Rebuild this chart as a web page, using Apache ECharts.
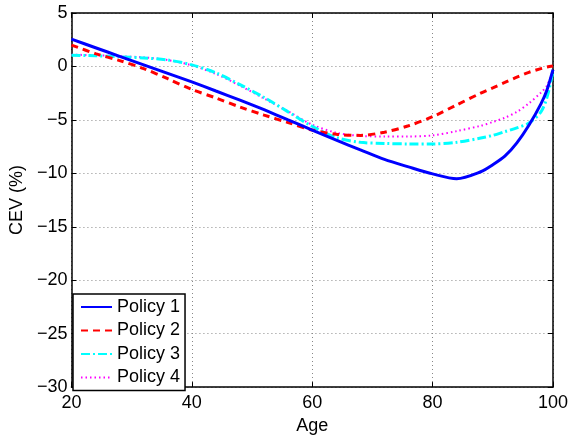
<!DOCTYPE html>
<html>
<head>
<meta charset="utf-8">
<script src="https://cdn.jsdelivr.net/npm/echarts@6/dist/echarts.min.js"></script>
<style>html,body{margin:0;padding:0;background:#fff}#c{width:571px;height:440px}</style>
</head>
<body>
<div id="c"></div>
<script>
const ages = [20,24,28,32,36,40,44,48,52,56,60,64,68,72,76,80,84,88,90,92,94,96,98,99,100];
const policy1 = [2.55,1.75,0.95,0.15,-0.65,-1.45,-2.3,-3.15,-4.05,-5.0,-5.95,-6.9,-7.8,-8.7,-9.4,-10.05,-10.5,-9.85,-9.2,-8.4,-7.15,-5.5,-3.5,-2.2,-0.3];
const policy2 = [2.0,1.2,0.55,-0.2,-1.15,-2.15,-2.95,-3.8,-4.55,-5.25,-5.95,-6.35,-6.45,-6.15,-5.55,-4.7,-3.6,-2.5,-2.0,-1.5,-1.0,-0.55,-0.2,-0.05,0.05];
const policy3 = [1.05,1.0,0.9,0.8,0.6,0.15,-0.6,-1.7,-2.9,-4.25,-5.6,-6.65,-7.1,-7.2,-7.25,-7.25,-7.1,-6.7,-6.45,-6.1,-5.75,-5.3,-4.25,-2.9,-0.5];
const policy4 = [1.1,1.05,0.95,0.85,0.6,0.1,-0.7,-1.8,-3.0,-4.2,-5.45,-6.2,-6.5,-6.55,-6.55,-6.45,-6.05,-5.55,-5.2,-4.8,-4.25,-3.45,-2.45,-1.8,-0.4];
const seriesNames = ['Policy 1','Policy 2','Policy 3','Policy 4'];
const xTicks = [20,40,60,80,100];
const yTicks = [-30,-25,-20,-15,-10,-5,0,5];

const FONT = '"Liberation Sans", Arial, Helvetica, sans-serif';
const fmt = v => (v < 0 ? '\u2212' + Math.abs(v) : String(v));
const pairs = arr => ages.map((a, i) => [a, arr[i]]);

const styles = [
  {color:'#0000ff', width:3, type:'solid'},
  {color:'#ff0000', width:3, type:[7,5]},
  {color:'#00ffff', width:3, type:[9,3,2,3]},
  {color:'#ff00ff', width:2, type:[1.5,3]}
];
const datas = [policy1, policy2, policy3, policy4];

const chart = echarts.init(document.getElementById('c'), null, {renderer:'canvas'});
const gridLine = {show:true, lineStyle:{color:'#888', type:[1,3], width:1}};
const boxLine = {show:true, onZero:false, lineStyle:{color:'#000', width:1.5}};
const tick = {show:true, inside:true, length:5, lineStyle:{color:'#000'}};
chart.setOption({
  animation:false,
  backgroundColor:'#fff',
  textStyle:{fontFamily:FONT},
  grid:{left:68, right:18, top:13, bottom:45, containLabel:false},
  legend:{
    orient:'vertical', left:73, top:294,
    data:seriesNames,
    backgroundColor:'#fff', borderColor:'#000', borderWidth:1.5,
    padding:[4,5,4,7], itemWidth:31, itemHeight:18, itemGap:5.5,
    itemStyle:{opacity:0},
    textStyle:{fontSize:18, color:'#000', fontFamily:FONT},
  },
  xAxis:[{
    type:'value', min:xTicks[0], max:xTicks[xTicks.length-1], interval:20,
    name:'Age', nameLocation:'middle', nameGap:24,
    nameTextStyle:{fontSize:18, color:'#000', fontFamily:FONT},
    axisLine:boxLine, axisTick:tick,
    axisLabel:{fontSize:18, color:'#000', margin:7, fontFamily:FONT, formatter:fmt},
    splitLine:gridLine
  },{
    type:'value', position:'top', min:xTicks[0], max:xTicks[xTicks.length-1], interval:20,
    axisLine:boxLine, axisTick:tick,
    axisLabel:{show:false}, splitLine:{show:false}
  }],
  yAxis:[{
    type:'value', min:yTicks[0], max:yTicks[yTicks.length-1], interval:5,
    name:'CEV (%)', nameLocation:'middle', nameGap:42, nameRotate:90,
    nameTextStyle:{fontSize:18, color:'#000', fontFamily:FONT},
    axisLine:boxLine, axisTick:tick,
    axisLabel:{fontSize:18, color:'#000', margin:4, fontFamily:FONT, formatter:fmt},
    splitLine:gridLine
  },{
    type:'value', position:'right', min:yTicks[0], max:yTicks[yTicks.length-1], interval:5,
    axisLine:boxLine, axisTick:tick,
    axisLabel:{show:false}, splitLine:{show:false}
  }],
  series: seriesNames.map((n, i) => ({
    name:n, type:'line', data:pairs(datas[i]),
    showSymbol:false, symbol:'none', smooth:0.3,
    color:styles[i].color,
    lineStyle:{color:styles[i].color, width:styles[i].width, type:styles[i].type},
    z: 10 - i
  }))
});
</script>
</body>
</html>
